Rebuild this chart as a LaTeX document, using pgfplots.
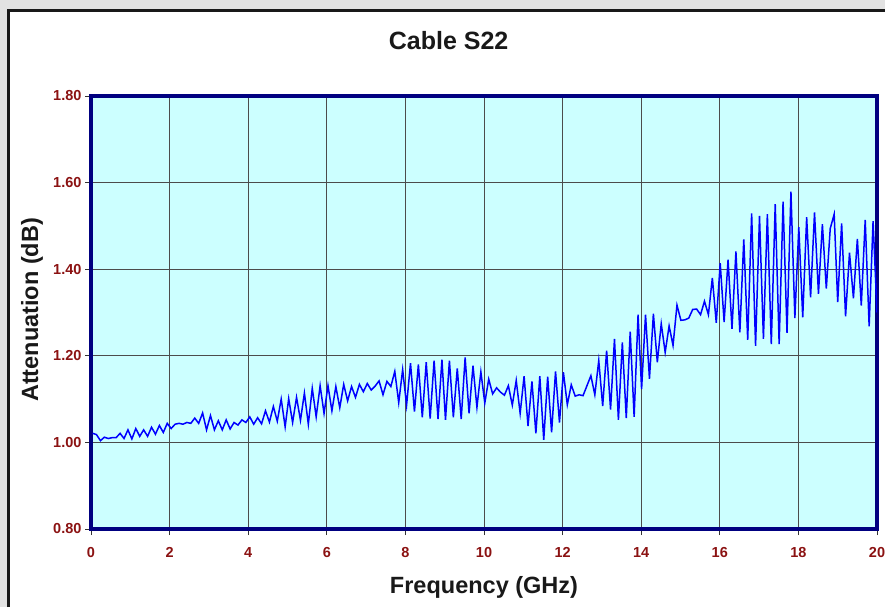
\documentclass[border=0pt]{standalone}
\usepackage{pgfplots}
\pgfplotsset{compat=1.18}
\usepackage{fontspec}
\setmainfont{Liberation Sans}
\definecolor{bgcyan}{HTML}{CCFFFF}
\definecolor{navyb}{HTML}{000080}
\definecolor{tickred}{RGB}{139,18,18}
\definecolor{framegray}{HTML}{E2E2E2}
\definecolor{lineblue}{HTML}{0000FF}
\begin{document}
\begin{tikzpicture}[x=1pt,y=1pt]
\path[use as bounding box, fill=framegray] (0pt,0pt) rectangle (885pt,607pt);
\fill[white] (8.3pt,0pt) rectangle (885pt,596.5pt);
\draw[line width=3.5pt, black!90] (8.3pt,0pt) -- (8.3pt,596.5pt) -- (885pt,596.5pt);
\begin{axis}[
  at={(91pt,78pt)}, anchor=south west,
  width=786pt, height=433pt, scale only axis,
  xmin=0, xmax=20, ymin=0.8, ymax=1.8,
  xtick={0,2,4,6,8,10,12,14,16,18,20},
  ytick={0.8,1,1.2,1.4,1.6,1.8},
  /pgf/number format/assume math mode=true,
  yticklabel style={/pgf/number format/.cd, fixed, fixed zerofill, precision=2},
  xticklabel style={yshift=-9pt},
  tick label style={font=\fontsize{14.5}{15}\selectfont\bfseries, text=tickred},
  axis background/.style={fill=bgcyan},
  grid=major,
  major grid style={draw=black!70, line width=0.9pt},
  axis line style={draw=navyb, line width=3.5pt},
  tick pos=left, tick align=outside, major tick length=6pt,
  tick style={black!80, line width=0.8pt},
  title={Cable S22},
  title style={at={(axis description cs:0.455,1.115)}, anchor=center, font=\fontsize{25}{26}\selectfont\bfseries, text=black!90},
  xlabel={Frequency (GHz)},
  xlabel style={at={(axis description cs:0.5,-0.136)}, anchor=center, font=\fontsize{23.5}{24}\selectfont\bfseries, text=black!90},
  ylabel={Attenuation (dB)},
  ylabel style={at={(axis description cs:-0.075,0.506)}, anchor=center, font=\fontsize{23.5}{24}\selectfont\bfseries, text=black!90},
]
\addplot[color=lineblue, line width=1.5pt, mark=none] table {
x y
0.04 1.021
0.14 1.018
0.24 1.004
0.34 1.012
0.44 1.009
0.54 1.011
0.64 1.011
0.74 1.021
0.84 1.009
0.94 1.029
1.04 1.008
1.14 1.032
1.24 1.014
1.34 1.029
1.44 1.014
1.54 1.035
1.64 1.019
1.74 1.039
1.84 1.023
1.94 1.044
2.04 1.032
2.14 1.042
2.24 1.044
2.34 1.042
2.44 1.046
2.54 1.044
2.64 1.056
2.74 1.044
2.84 1.068
2.94 1.029
3.04 1.062
3.14 1.029
3.24 1.050
3.34 1.029
3.44 1.052
3.54 1.031
3.64 1.046
3.74 1.040
3.84 1.052
3.94 1.046
4.04 1.059
4.14 1.042
4.24 1.057
4.34 1.043
4.44 1.073
4.54 1.047
4.64 1.083
4.74 1.049
4.84 1.100
4.94 1.036
5.03 1.101
5.13 1.046
5.23 1.104
5.33 1.051
5.43 1.114
5.53 1.042
5.63 1.125
5.73 1.059
5.83 1.131
5.93 1.067
6.03 1.131
6.13 1.073
6.23 1.129
6.33 1.080
6.43 1.134
6.53 1.096
6.63 1.129
6.73 1.104
6.83 1.134
6.93 1.117
7.03 1.136
7.13 1.121
7.23 1.130
7.33 1.142
7.43 1.110
7.53 1.141
7.63 1.129
7.73 1.164
7.83 1.092
7.93 1.168
8.03 1.086
8.13 1.183
8.23 1.071
8.33 1.180
8.43 1.058
8.53 1.185
8.63 1.055
8.73 1.189
8.83 1.054
8.93 1.191
9.02 1.052
9.12 1.189
9.22 1.058
9.32 1.171
9.42 1.054
9.52 1.196
9.62 1.067
9.72 1.177
9.82 1.081
9.92 1.163
10.02 1.091
10.12 1.146
10.22 1.112
10.32 1.126
10.42 1.116
10.52 1.109
10.62 1.131
10.72 1.086
10.82 1.143
10.92 1.067
11.02 1.153
11.12 1.038
11.22 1.141
11.32 1.021
11.42 1.153
11.52 1.006
11.62 1.152
11.72 1.023
11.82 1.164
11.92 1.046
12.02 1.162
12.12 1.087
12.22 1.133
12.32 1.107
12.42 1.110
12.52 1.108
12.62 1.131
12.72 1.154
12.82 1.110
12.92 1.189
13.02 1.084
13.12 1.212
13.22 1.076
13.32 1.239
13.42 1.052
13.52 1.231
13.62 1.056
13.72 1.256
13.82 1.059
13.92 1.295
14.01 1.123
14.11 1.295
14.21 1.147
14.31 1.297
14.41 1.185
14.51 1.274
14.61 1.208
14.71 1.269
14.81 1.224
14.91 1.317
15.01 1.282
15.11 1.283
15.21 1.287
15.31 1.307
15.41 1.308
15.51 1.295
15.61 1.326
15.71 1.295
15.81 1.380
15.91 1.276
16.01 1.414
16.11 1.278
16.21 1.422
16.31 1.262
16.41 1.441
16.51 1.254
16.61 1.469
16.71 1.237
16.81 1.529
16.91 1.223
17.01 1.523
17.11 1.239
17.21 1.527
17.31 1.227
17.41 1.550
17.51 1.227
17.61 1.556
17.71 1.253
17.81 1.579
17.91 1.287
18.01 1.497
18.11 1.289
18.21 1.520
18.31 1.335
18.41 1.531
18.51 1.343
18.61 1.504
18.71 1.355
18.81 1.494
18.91 1.527
19.00 1.324
19.10 1.506
19.20 1.291
19.30 1.438
19.40 1.333
19.50 1.470
19.60 1.316
19.70 1.514
19.80 1.268
19.90 1.511
20.00 1.300
};
\end{axis}
\end{tikzpicture}
\end{document}
